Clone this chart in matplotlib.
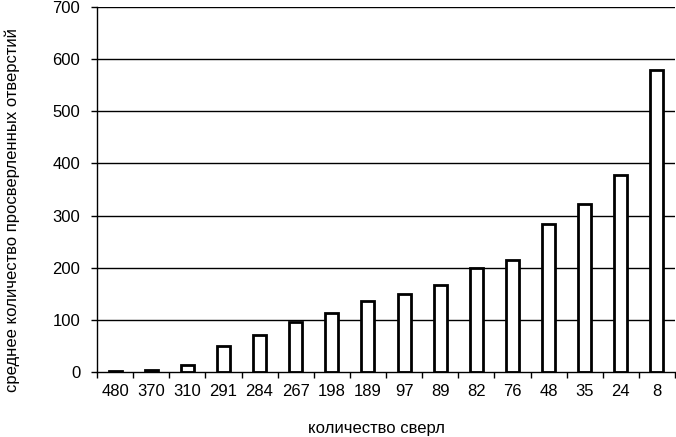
import matplotlib
matplotlib.use("Agg")
import matplotlib.pyplot as plt
import numpy as np

plt.rcParams.update({
    "font.family": ["Liberation Sans", "DejaVu Sans"],
    "font.size": 12,
})

# количество сверл (категории) и среднее число отверстий
drills = ["480", "370", "310", "291", "284", "267", "198", "189",
          "97", "89", "82", "76", "48", "35", "24", "8"]
holes = [1, 4, 13, 50, 71, 96, 114, 137, 149, 166, 200, 215, 284, 323, 377, 579]

fig = plt.figure(figsize=(6.76, 4.37), dpi=100)
ax = fig.add_axes([97 / 676, 1 - 372 / 437, 578 / 676, 365 / 437])

x = np.arange(len(drills))
ax.bar(x, holes, width=0.36, color="white", edgecolor="black", linewidth=2, zorder=3)

ax.set_ylim(0, 700)
ax.set_yticks(np.arange(0, 701, 100))
ax.set_xlim(-0.5, len(drills) - 0.5)
for yv in range(100, 701, 100):
    ax.axhline(yv, color="black", lw=1, zorder=1)

# тики между категориями, подписи по центру
ax.set_xticks(np.arange(len(drills) + 1) - 0.5)
ax.set_xticklabels([])
ax.set_xticks(x, minor=True)
ax.set_xticklabels(drills, minor=True)
ax.tick_params(axis="x", which="major", length=4, width=1, direction="out")
ax.tick_params(axis="x", which="minor", length=0, pad=9)
ax.tick_params(axis="y", length=4, width=1, direction="out", pad=8)

for s in ("top", "right"):
    ax.spines[s].set_visible(False)
for s in ("left", "bottom"):
    ax.spines[s].set_linewidth(1)
    ax.spines[s].set_zorder(4)

fig.text(377 / 676, 1 - 429 / 437, "количество сверл", ha="center", va="center", fontsize=12)
fig.text(12 / 676, 1 - 210 / 437, "среднее количество просверленных отверстий",
         ha="center", va="center", rotation=90, fontsize=12)

fig.savefig("out.png", dpi=100)
